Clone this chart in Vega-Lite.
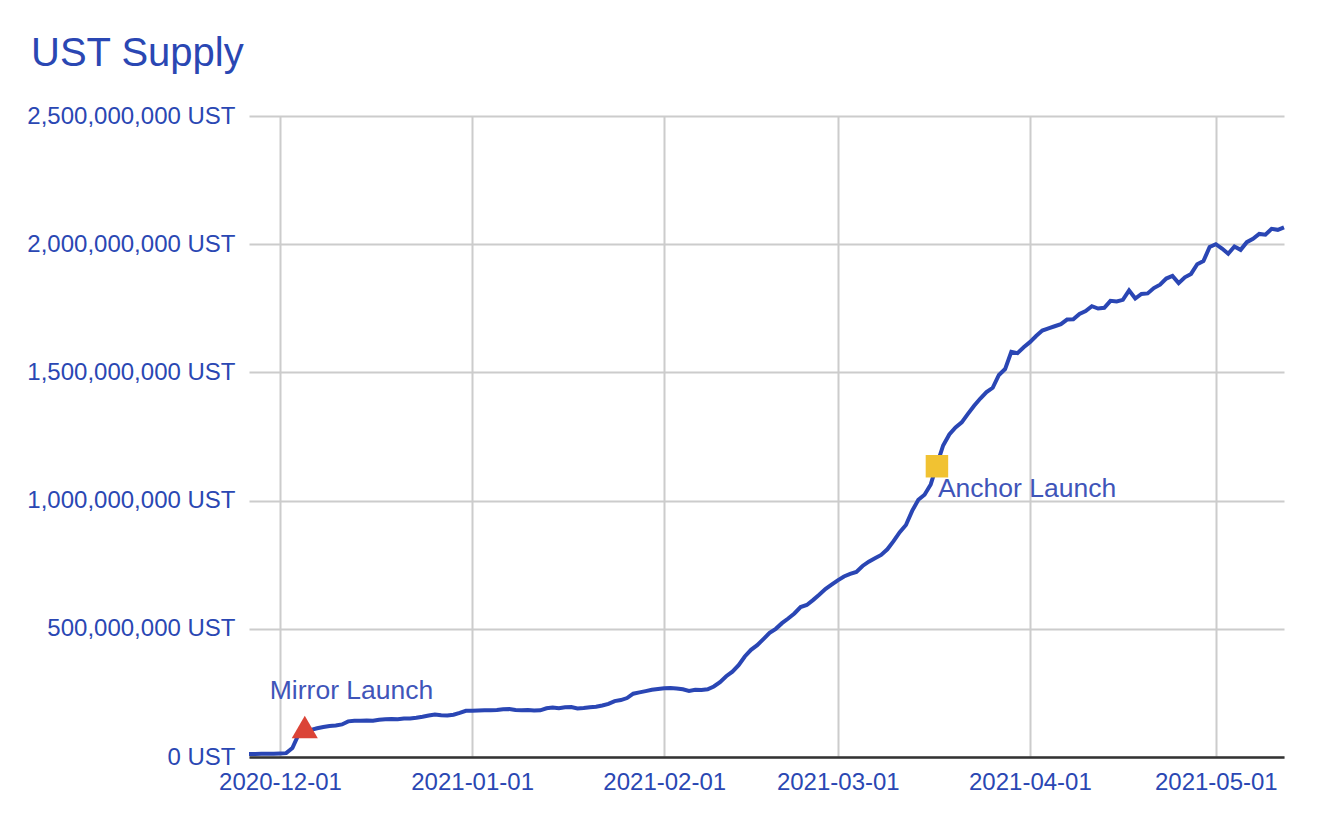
{
  "$schema": "https://vega.github.io/schema/vega-lite/v6.json",
  "width": 1035,
  "height": 641,
  "autosize": {"type": "none"},
  "padding": {"left": 249, "top": 116, "right": 40, "bottom": 71},
  "background": "white",
  "title": {
    "text": "UST Supply",
    "anchor": "start",
    "frame": "group",
    "dx": -218,
    "dy": 39,
    "offset": 37,
    "baseline": "alphabetic",
    "fontSize": 40,
    "font": "Liberation Sans",
    "fontWeight": "normal",
    "color": "#2a47b3"
  },
  "config": {"view": {"stroke": null}, "font": "Liberation Sans"},
  "datasets": {
    "supply": [
      {"date": "2020-11-26", "supply": 12000000},
      {"date": "2020-11-27", "supply": 12000000},
      {"date": "2020-11-28", "supply": 13000000},
      {"date": "2020-11-29", "supply": 13000000},
      {"date": "2020-11-30", "supply": 13000000},
      {"date": "2020-12-01", "supply": 14000000},
      {"date": "2020-12-02", "supply": 15000000},
      {"date": "2020-12-03", "supply": 35000000},
      {"date": "2020-12-04", "supply": 88000000},
      {"date": "2020-12-05", "supply": 100000000},
      {"date": "2020-12-06", "supply": 106000000},
      {"date": "2020-12-07", "supply": 112000000},
      {"date": "2020-12-08", "supply": 117000000},
      {"date": "2020-12-09", "supply": 121000000},
      {"date": "2020-12-10", "supply": 123000000},
      {"date": "2020-12-11", "supply": 127000000},
      {"date": "2020-12-12", "supply": 139000000},
      {"date": "2020-12-13", "supply": 141000000},
      {"date": "2020-12-14", "supply": 141000000},
      {"date": "2020-12-15", "supply": 142000000},
      {"date": "2020-12-16", "supply": 141000000},
      {"date": "2020-12-17", "supply": 145000000},
      {"date": "2020-12-18", "supply": 147000000},
      {"date": "2020-12-19", "supply": 148000000},
      {"date": "2020-12-20", "supply": 147000000},
      {"date": "2020-12-21", "supply": 150000000},
      {"date": "2020-12-22", "supply": 150000000},
      {"date": "2020-12-23", "supply": 153000000},
      {"date": "2020-12-24", "supply": 157000000},
      {"date": "2020-12-25", "supply": 162000000},
      {"date": "2020-12-26", "supply": 166000000},
      {"date": "2020-12-27", "supply": 163000000},
      {"date": "2020-12-28", "supply": 162000000},
      {"date": "2020-12-29", "supply": 165000000},
      {"date": "2020-12-30", "supply": 172000000},
      {"date": "2020-12-31", "supply": 180000000},
      {"date": "2021-01-01", "supply": 180000000},
      {"date": "2021-01-02", "supply": 181000000},
      {"date": "2021-01-03", "supply": 182000000},
      {"date": "2021-01-04", "supply": 182000000},
      {"date": "2021-01-05", "supply": 183000000},
      {"date": "2021-01-06", "supply": 186000000},
      {"date": "2021-01-07", "supply": 187000000},
      {"date": "2021-01-08", "supply": 183000000},
      {"date": "2021-01-09", "supply": 182000000},
      {"date": "2021-01-10", "supply": 183000000},
      {"date": "2021-01-11", "supply": 181000000},
      {"date": "2021-01-12", "supply": 182000000},
      {"date": "2021-01-13", "supply": 190000000},
      {"date": "2021-01-14", "supply": 193000000},
      {"date": "2021-01-15", "supply": 190000000},
      {"date": "2021-01-16", "supply": 194000000},
      {"date": "2021-01-17", "supply": 195000000},
      {"date": "2021-01-18", "supply": 189000000},
      {"date": "2021-01-19", "supply": 191000000},
      {"date": "2021-01-20", "supply": 194000000},
      {"date": "2021-01-21", "supply": 196000000},
      {"date": "2021-01-22", "supply": 201000000},
      {"date": "2021-01-23", "supply": 207000000},
      {"date": "2021-01-24", "supply": 218000000},
      {"date": "2021-01-25", "supply": 222000000},
      {"date": "2021-01-26", "supply": 230000000},
      {"date": "2021-01-27", "supply": 247000000},
      {"date": "2021-01-28", "supply": 252000000},
      {"date": "2021-01-29", "supply": 257000000},
      {"date": "2021-01-30", "supply": 262000000},
      {"date": "2021-01-31", "supply": 265000000},
      {"date": "2021-02-01", "supply": 268000000},
      {"date": "2021-02-02", "supply": 269000000},
      {"date": "2021-02-03", "supply": 267000000},
      {"date": "2021-02-04", "supply": 264000000},
      {"date": "2021-02-05", "supply": 258000000},
      {"date": "2021-02-06", "supply": 262000000},
      {"date": "2021-02-07", "supply": 261000000},
      {"date": "2021-02-08", "supply": 264000000},
      {"date": "2021-02-09", "supply": 275000000},
      {"date": "2021-02-10", "supply": 292000000},
      {"date": "2021-02-11", "supply": 315000000},
      {"date": "2021-02-12", "supply": 333000000},
      {"date": "2021-02-13", "supply": 358000000},
      {"date": "2021-02-14", "supply": 392000000},
      {"date": "2021-02-15", "supply": 418000000},
      {"date": "2021-02-16", "supply": 436000000},
      {"date": "2021-02-17", "supply": 460000000},
      {"date": "2021-02-18", "supply": 484000000},
      {"date": "2021-02-19", "supply": 500000000},
      {"date": "2021-02-20", "supply": 522000000},
      {"date": "2021-02-21", "supply": 540000000},
      {"date": "2021-02-22", "supply": 560000000},
      {"date": "2021-02-23", "supply": 585000000},
      {"date": "2021-02-24", "supply": 593000000},
      {"date": "2021-02-25", "supply": 612000000},
      {"date": "2021-02-26", "supply": 633000000},
      {"date": "2021-02-27", "supply": 655000000},
      {"date": "2021-02-28", "supply": 672000000},
      {"date": "2021-03-01", "supply": 689000000},
      {"date": "2021-03-02", "supply": 704000000},
      {"date": "2021-03-03", "supply": 714000000},
      {"date": "2021-03-04", "supply": 722000000},
      {"date": "2021-03-05", "supply": 745000000},
      {"date": "2021-03-06", "supply": 762000000},
      {"date": "2021-03-07", "supply": 775000000},
      {"date": "2021-03-08", "supply": 788000000},
      {"date": "2021-03-09", "supply": 810000000},
      {"date": "2021-03-10", "supply": 842000000},
      {"date": "2021-03-11", "supply": 877000000},
      {"date": "2021-03-12", "supply": 905000000},
      {"date": "2021-03-13", "supply": 960000000},
      {"date": "2021-03-14", "supply": 1003000000},
      {"date": "2021-03-15", "supply": 1023000000},
      {"date": "2021-03-16", "supply": 1063000000},
      {"date": "2021-03-17", "supply": 1140000000},
      {"date": "2021-03-18", "supply": 1215000000},
      {"date": "2021-03-19", "supply": 1258000000},
      {"date": "2021-03-20", "supply": 1285000000},
      {"date": "2021-03-21", "supply": 1305000000},
      {"date": "2021-03-22", "supply": 1338000000},
      {"date": "2021-03-23", "supply": 1370000000},
      {"date": "2021-03-24", "supply": 1398000000},
      {"date": "2021-03-25", "supply": 1423000000},
      {"date": "2021-03-26", "supply": 1440000000},
      {"date": "2021-03-27", "supply": 1490000000},
      {"date": "2021-03-28", "supply": 1513000000},
      {"date": "2021-03-29", "supply": 1580000000},
      {"date": "2021-03-30", "supply": 1575000000},
      {"date": "2021-03-31", "supply": 1598000000},
      {"date": "2021-04-01", "supply": 1618000000},
      {"date": "2021-04-02", "supply": 1642000000},
      {"date": "2021-04-03", "supply": 1663000000},
      {"date": "2021-04-04", "supply": 1672000000},
      {"date": "2021-04-05", "supply": 1680000000},
      {"date": "2021-04-06", "supply": 1688000000},
      {"date": "2021-04-07", "supply": 1706000000},
      {"date": "2021-04-08", "supply": 1707000000},
      {"date": "2021-04-09", "supply": 1728000000},
      {"date": "2021-04-10", "supply": 1739000000},
      {"date": "2021-04-11", "supply": 1758000000},
      {"date": "2021-04-12", "supply": 1749000000},
      {"date": "2021-04-13", "supply": 1752000000},
      {"date": "2021-04-14", "supply": 1779000000},
      {"date": "2021-04-15", "supply": 1777000000},
      {"date": "2021-04-16", "supply": 1783000000},
      {"date": "2021-04-17", "supply": 1820000000},
      {"date": "2021-04-18", "supply": 1788000000},
      {"date": "2021-04-19", "supply": 1806000000},
      {"date": "2021-04-20", "supply": 1808000000},
      {"date": "2021-04-21", "supply": 1829000000},
      {"date": "2021-04-22", "supply": 1842000000},
      {"date": "2021-04-23", "supply": 1866000000},
      {"date": "2021-04-24", "supply": 1876000000},
      {"date": "2021-04-25", "supply": 1848000000},
      {"date": "2021-04-26", "supply": 1871000000},
      {"date": "2021-04-27", "supply": 1884000000},
      {"date": "2021-04-28", "supply": 1922000000},
      {"date": "2021-04-29", "supply": 1934000000},
      {"date": "2021-04-30", "supply": 1989000000},
      {"date": "2021-05-01", "supply": 2000000000},
      {"date": "2021-05-02", "supply": 1983000000},
      {"date": "2021-05-03", "supply": 1963000000},
      {"date": "2021-05-04", "supply": 1991000000},
      {"date": "2021-05-05", "supply": 1978000000},
      {"date": "2021-05-06", "supply": 2008000000},
      {"date": "2021-05-07", "supply": 2021000000},
      {"date": "2021-05-08", "supply": 2040000000},
      {"date": "2021-05-09", "supply": 2037000000},
      {"date": "2021-05-10", "supply": 2060000000},
      {"date": "2021-05-11", "supply": 2056000000},
      {"date": "2021-05-12", "supply": 2066000000}
    ],
    "events": [
      {"date": "2020-12-05", "supply": 117000000, "event": "Mirror Launch"},
      {"date": "2021-03-17", "supply": 1134000000, "event": "Anchor Launch"}
    ]
  },
  "encoding": {
    "x": {
      "field": "date",
      "type": "temporal",
      "scale": {
        "type": "utc",
        "domain": [
          {"year": 2020, "month": 11, "date": 26, "utc": true},
          {"year": 2021, "month": 5, "date": 12, "utc": true}
        ]
      },
      "axis": {
        "title": null,
        "values": [
          {"year": 2020, "month": 12, "date": 1, "utc": true},
          {"year": 2021, "month": 1, "date": 1, "utc": true},
          {"year": 2021, "month": 2, "date": 1, "utc": true},
          {"year": 2021, "month": 3, "date": 1, "utc": true},
          {"year": 2021, "month": 4, "date": 1, "utc": true},
          {"year": 2021, "month": 5, "date": 1, "utc": true}
        ],
        "labelExpr": "utcFormat(datum.value, '%Y-%m-%d')",
        "grid": true,
        "gridColor": "#cccccc",
        "gridWidth": 2,
        "ticks": false,
        "tickSize": 0,
        "domainColor": "#333333",
        "domainWidth": 2.5,
        "labelFont": "Liberation Sans",
        "labelFontSize": 24,
        "labelColor": "#2a47b3",
        "labelPadding": 13,
        "labelOverlap": false,
        "labelFlush": false,
        "labelBound": false
      }
    },
    "y": {
      "field": "supply",
      "type": "quantitative",
      "scale": {"domain": [0, 2500000000], "nice": false},
      "axis": {
        "title": null,
        "values": [0, 500000000, 1000000000, 1500000000, 2000000000, 2500000000],
        "labelExpr": "format(datum.value, ',') + ' UST'",
        "grid": true,
        "gridColor": "#cccccc",
        "gridWidth": 2,
        "domain": false,
        "ticks": false,
        "tickSize": 0,
        "labelFont": "Liberation Sans",
        "labelFontSize": 24,
        "labelColor": "#2a47b3",
        "labelPadding": 14,
        "labelLimit": 400
      }
    }
  },
  "layer": [
    {
      "data": {"name": "supply"},
      "mark": {"type": "line", "color": "#2a46b4", "strokeWidth": 4}
    },
    {
      "data": {"name": "events"},
      "transform": [{"filter": "datum.event === 'Mirror Launch'"}],
      "mark": {"type": "point", "shape": "triangle-up", "filled": true, "size": 680, "color": "#db4437", "opacity": 1, "strokeWidth": 0}
    },
    {
      "data": {"name": "events"},
      "transform": [{"filter": "datum.event === 'Anchor Launch'"}],
      "mark": {"type": "point", "shape": "square", "filled": true, "size": 506, "color": "#f1c232", "opacity": 1, "strokeWidth": 0}
    },
    {
      "data": {"name": "events"},
      "transform": [{"filter": "datum.event === 'Mirror Launch'"}],
      "mark": {"type": "text", "align": "left", "baseline": "alphabetic", "dx": -35, "dy": -28, "fontSize": 26.5, "font": "Liberation Sans", "color": "#3f55b9"},
      "encoding": {"text": {"field": "event"}}
    },
    {
      "data": {"name": "events"},
      "transform": [{"filter": "datum.event === 'Anchor Launch'"}],
      "mark": {"type": "text", "align": "left", "baseline": "alphabetic", "dx": 1, "dy": 31, "fontSize": 26.5, "font": "Liberation Sans", "color": "#3f55b9"},
      "encoding": {"text": {"field": "event"}}
    }
  ]
}
